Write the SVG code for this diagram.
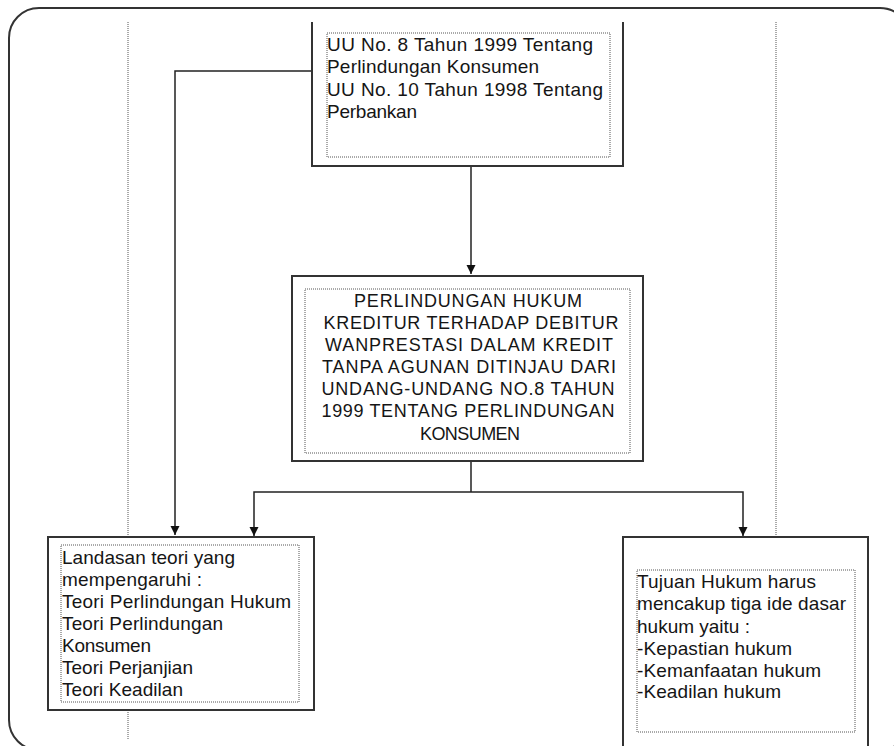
<svg xmlns="http://www.w3.org/2000/svg" width="894" height="746" viewBox="0 0 894 746">
<style>
.box{fill:#fff;stroke:#333;stroke-width:2}
.inner{fill:none;stroke:#555;stroke-width:1;stroke-dasharray:1,1}
.guide{fill:none;stroke:#555;stroke-width:1;stroke-dasharray:1,1}
.wire{fill:none;stroke:#222;stroke-width:1.5}
text{font-family:"Liberation Sans",Arial,sans-serif;fill:#151515;font-size:19px}
.mid{font-size:18px;text-anchor:middle}
</style>
<defs>
<marker id="arr" markerWidth="10" markerHeight="10" refX="9" refY="5" orient="auto" markerUnits="userSpaceOnUse">
<path d="M0,0.5 L9,5 L0,9.5 Z" fill="#111"/>
</marker>
</defs>
<rect x="0" y="0" width="894" height="746" fill="#fff"/>
<rect x="9" y="8" width="901" height="742" rx="30" ry="30" fill="#fff" stroke="#333" stroke-width="2"/>
<g id="guides">
<line class="guide" x1="128" y1="22" x2="128" y2="740"/>
<line class="guide" x1="776" y1="22" x2="776" y2="537"/>
</g>
<g id="connectors">
<polyline class="wire" points="312,71 175,71 175,535" marker-end="url(#arr)"/>
<line class="wire" x1="471" y1="166" x2="471" y2="274" marker-end="url(#arr)"/>
<line class="wire" x1="471" y1="461" x2="471" y2="492"/>
<polyline class="wire" points="471,492 254,492 254,536" marker-end="url(#arr)"/>
<polyline class="wire" points="471,492 743,492 743,536" marker-end="url(#arr)"/>
</g>
<g id="node-uu">
<path class="box" d="M312,22 L312,166 L623,166 L623,22"/>
<rect class="inner" x="327" y="33" width="283" height="124"/>
<text x="327" y="51" textLength="266" lengthAdjust="spacing">UU No. 8 Tahun 1999 Tentang</text>
<text x="327" y="73" textLength="212" lengthAdjust="spacing">Perlindungan Konsumen</text>
<text x="327" y="96" textLength="276" lengthAdjust="spacing">UU No. 10 Tahun 1998 Tentang</text>
<text x="327" y="118" textLength="90" lengthAdjust="spacing">Perbankan</text>
</g>
<g id="node-main">
<rect class="box" x="292" y="276" width="351" height="185"/>
<rect class="inner" x="305" y="289" width="325" height="164"/>
<text class="mid" x="468" y="307" textLength="228" lengthAdjust="spacing">PERLINDUNGAN  HUKUM</text>
<text class="mid" x="471" y="329" textLength="295" lengthAdjust="spacing">KREDITUR TERHADAP DEBITUR</text>
<text class="mid" x="469" y="351" textLength="288" lengthAdjust="spacing">WANPRESTASI  DALAM KREDIT</text>
<text class="mid" x="469" y="373" textLength="294" lengthAdjust="spacing">TANPA AGUNAN DITINJAU DARI</text>
<text class="mid" x="468" y="395" textLength="293" lengthAdjust="spacing">UNDANG-UNDANG  NO.8 TAHUN</text>
<text class="mid" x="468" y="417" textLength="293" lengthAdjust="spacing">1999 TENTANG PERLINDUNGAN</text>
<text class="mid" x="470" y="440" textLength="100" lengthAdjust="spacing">KONSUMEN</text>
</g>
<g id="node-teori">
<rect class="box" x="48" y="537" width="266" height="173"/>
<rect class="inner" x="61" y="545" width="238" height="157"/>
<text x="62" y="564" textLength="173" lengthAdjust="spacing">Landasan  teori yang</text>
<text x="62" y="586" textLength="140" lengthAdjust="spacing">mempengaruhi  :</text>
<text x="62" y="608" textLength="229" lengthAdjust="spacing">Teori Perlindungan Hukum</text>
<text x="62" y="630" textLength="161" lengthAdjust="spacing">Teori Perlindungan</text>
<text x="62" y="652" textLength="89" lengthAdjust="spacing">Konsumen</text>
<text x="62" y="674" textLength="131" lengthAdjust="spacing">Teori Perjanjian</text>
<text x="62" y="696" textLength="121" lengthAdjust="spacing">Teori Keadilan</text>
</g>
<g id="node-tujuan">
<path class="box" d="M623,750 L623,537 L868,537 L868,750"/>
<rect class="inner" x="637" y="570" width="218" height="162"/>
<text x="637" y="588" textLength="179" lengthAdjust="spacing">Tujuan Hukum harus</text>
<text x="637" y="610" textLength="209" lengthAdjust="spacing">mencakup tiga ide dasar</text>
<text x="637" y="633" textLength="113" lengthAdjust="spacing">hukum yaitu :</text>
<text x="637" y="655" textLength="155" lengthAdjust="spacing">-Kepastian  hukum</text>
<text x="637" y="677" textLength="184" lengthAdjust="spacing">-Kemanfaatan  hukum</text>
<text x="637" y="698" textLength="144" lengthAdjust="spacing">-Keadilan  hukum</text>
</g>
</svg>
